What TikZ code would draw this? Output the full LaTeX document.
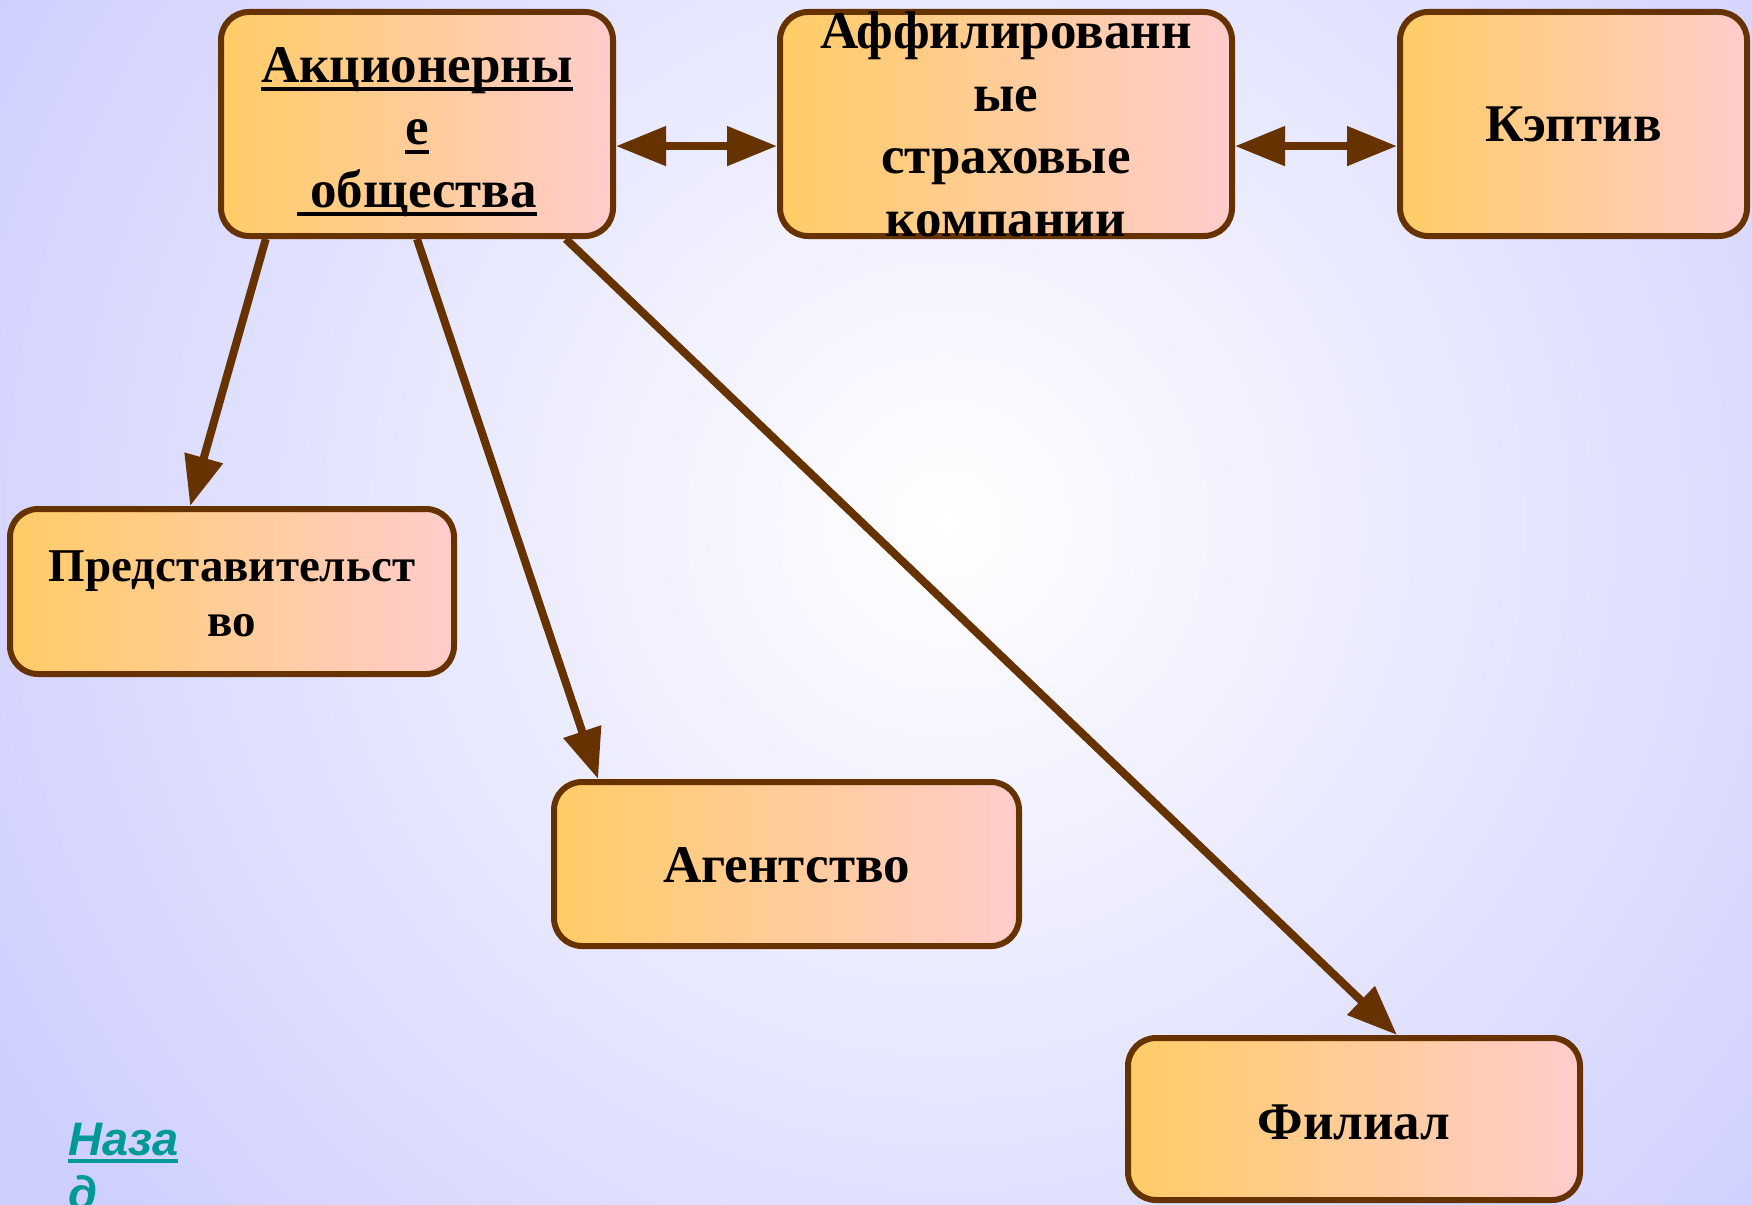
\documentclass[tikz,border=0pt]{standalone}
\usepackage{fontspec}
\setmainfont{Liberation Serif}
\newfontfamily\navfont{Liberation Sans}
\usetikzlibrary{arrows.meta,calc}
\definecolor{brd}{RGB}{102,51,0}
\definecolor{boxL}{RGB}{255,204,102}
\definecolor{boxR}{RGB}{255,204,204}
\definecolor{bgout}{RGB}{206,206,255}
\definecolor{navc}{RGB}{0,153,153}
\pgfdeclareradialshading{bgrad}{\pgfpoint{0bp}{0bp}}{color(0bp)=(white); color(20bp)=(bgout); color(50bp)=(bgout)}
\newcommand\ulserif[1]{\setbox0\hbox{#1}\rlap{\vrule width\wd0 height -5pt depth 9pt}\box0}
\newcommand\ulnav[1]{\setbox0\hbox{#1}\rlap{\vrule width\wd0 height -3pt depth 7pt}\box0}
\tikzset{
  box/.style={draw=brd, line width=6pt, rounded corners=28pt, left color=boxL, right color=boxR, inner sep=0pt},
  lbl/.style={font=\fontsize{53}{62.5}\selectfont\bfseries, align=center, inner sep=0pt, text=black},
  conn/.style={draw=brd, line width=8pt, -{Triangle[length=50pt,width=38pt]}},
  conntwo/.style={draw=brd, line width=8pt, {Triangle[length=50pt,width=38pt]}-{Triangle[length=50pt,width=38pt]}}
}
\begin{document}
\begin{tikzpicture}[x=1pt,y=-1pt]
\useasboundingbox (0,0) rectangle (1752,1204);
\begin{scope}
  \clip (0,0) rectangle (1752,1204);
  \fill[bgout] (0,0) rectangle (1752,1204);
  \shade[shading=bgrad] (947,523) circle (1390pt);
\end{scope}
% boxes
\node[box, minimum width=392pt, minimum height=224pt] (ao) at (417,124) {};
\node[box, minimum width=452pt, minimum height=224pt] (af) at (1006,124) {};
\node[box, minimum width=347pt, minimum height=224pt] (kp) at (1573.5,124) {};
\node[box, minimum width=444pt, minimum height=165pt] (pr) at (232,591.5) {};
\node[box, minimum width=465pt, minimum height=164pt] (ag) at (786.5,864) {};
\node[box, minimum width=452pt, minimum height=162pt] (fl) at (1354,1119) {};
% connectors
\draw[conntwo] ($(ao.north east)!0.596!(ao.south east)$) -- ($(af.north west)!0.596!(af.south west)$);
\draw[conntwo] ($(af.north east)!0.596!(af.south east)$) -- ($(kp.north west)!0.596!(kp.south west)$);
\draw[conn] ($(ao.south west)!0.12!(ao.south east)$) -- ($(pr.north west)!0.407!(pr.north east)$);
\draw[conn] (ao.south) -- ($(ag.north west)!0.10!(ag.north east)$);
\draw[conn] ($(ao.south west)!0.874!(ao.south east)$) -- ($(fl.north west)!0.594!(fl.north east)$);
% labels
\node[lbl] (aot) at (417,132) {\ulserif{Акционерны}\\\ulserif{е}\\\ulserif{\ общества}};
\node[lbl] (aft) at (1006,124.5) {Аффилированн\\ые\\страховые\\компании};
\node[lbl] (kpt) at (kp) {Кэптив};
\node[lbl, font=\fontsize{47}{55}\selectfont\bfseries] (prt) at (232,594) {Представительст\\во};
\node[lbl] (agt) at (786.5,865.5) {Агентство};
\node[lbl] (flt) at (1354,1122) {Филиал};
\node[anchor=north west, align=left, inner sep=0pt, text=navc, font=\fontsize{47}{54}\selectfont\navfont\bfseries\itshape] (back) at (68,1123) {\ulnav{Наза}\\\ulnav{д}};
\end{tikzpicture}
\end{document}
